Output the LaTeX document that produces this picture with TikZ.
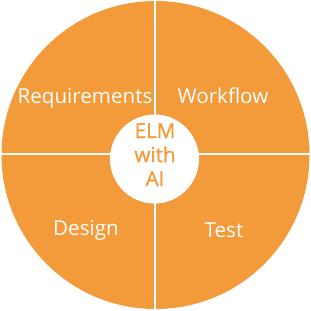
\documentclass[tikz,border=0pt]{standalone}
\usepackage{fontspec}
\setmainfont{Open Sans}
\usetikzlibrary{positioning}
\definecolor{elmorange}{HTML}{F39A3B}

\begin{document}
\begin{tikzpicture}[
    x=1pt, y=-1pt,
    quarter/.style={text=white, font=\fontsize{20.6}{24}\selectfont, anchor=base, inner sep=0pt},
    hubtext/.style={text=elmorange, font=\fontsize{20.6}{24}\selectfont\addfontfeature{FakeBold=0.9}, align=center, anchor=base, inner sep=0pt},
    divider/.style={white, line width=2pt}
  ]
  \useasboundingbox (0,0) rectangle (311,311);
  % disc and the two dividers
  \fill[elmorange] (155.5,155) circle (154);
  \coordinate (top) at (155,0);
  \coordinate (bottom) at (155,311);
  \coordinate (left) at (0,154);
  \coordinate (right) at (311,154);
  \draw[divider] (top) -- (bottom);
  \draw[divider] (left) -- (right);
  % centre
  \node[circle, fill=white, minimum size=89pt, inner sep=0pt] (hub) at (154.5,159) {};
  \node[hubtext] (hublabel) at (155,186) {ELM\\with\\AI};
  % quarters
  \node[quarter] (req) at (85,103) {Requirements};
  \node[quarter] (flow) at (223,103) {Workflow};
  \node[quarter] (design) at (86,235) {Design};
  \node[quarter] (test) at (224,237) {Test};
\end{tikzpicture}
\end{document}
